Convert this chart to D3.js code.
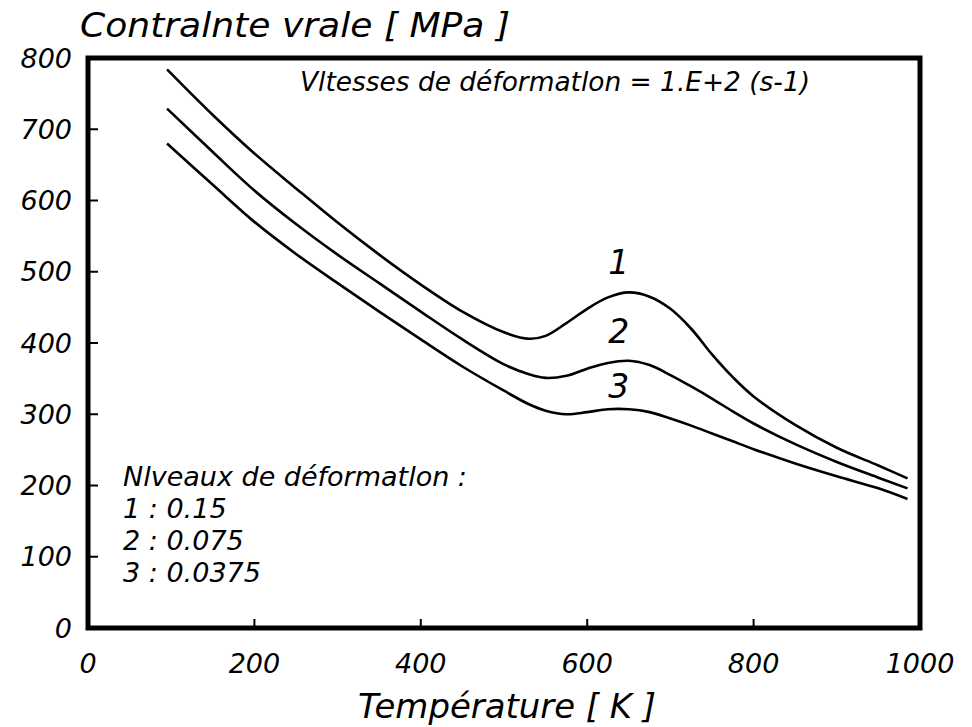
<!DOCTYPE html>
<html>
<head>
<meta charset="utf-8">
<script src="https://cdn.jsdelivr.net/npm/d3@7"></script>
<style>
  body { margin: 0; background: #fff; }
  text { font-family: "DejaVu Sans", sans-serif; font-style: italic; fill: #000; }
</style>
</head>
<body>
<svg id="chart"></svg>
<script>
// temperature (K) sampled along the curves
const temps = [95, 150, 200, 250, 300, 350, 400, 450, 500, 530, 550, 575, 600, 625, 650, 675, 700, 725, 750, 775, 800, 850, 900, 950, 985];

// true stress (MPa) per strain level
const level1 = [784, 720, 666, 617, 569, 524, 482, 444, 415, 406, 410, 428, 448, 464, 471, 465, 448, 420, 384, 352, 325, 285, 253, 228, 210];
const level2 = [729, 668, 614, 567, 524, 484, 444, 405, 370, 356, 351, 354, 364, 372, 375, 369, 355, 339, 322, 304, 287, 258, 233, 211, 196];
const level3 = [680, 622, 570, 525, 484, 444, 405, 367, 333, 314, 305, 300, 303, 307, 307, 303, 294, 284, 273, 262, 251, 231, 213, 196, 181];

const seriesNames = ["1", "2", "3"];
const xTicks = [0, 200, 400, 600, 800, 1000];
const yTicks = [0, 100, 200, 300, 400, 500, 600, 700, 800];

const legendLines = ["Nlveaux de déformatlon :", "1 : 0.15", "2 : 0.075", "3 : 0.0375"];

const width = 972, height = 727;
const margin = { top: 58, right: 52, bottom: 99, left: 88 };

const svg = d3.select("#chart").attr("width", width).attr("height", height);

const x = d3.scaleLinear().domain([0, 1000]).range([margin.left, width - margin.right]);
const y = d3.scaleLinear().domain([0, 800]).range([height - margin.bottom, margin.top]);

// curves
const series = [level1, level2, level3];
const line = d3.line()
    .x((d, i) => x(temps[i]))
    .y(d => y(d))
    .curve(d3.curveCatmullRom.alpha(0.5));

svg.append("g")
    .selectAll("path")
    .data(series)
    .join("path")
    .attr("d", line)
    .attr("fill", "none")
    .attr("stroke", "#000")
    .attr("stroke-width", 2.6);

// inward ticks
svg.append("g")
    .selectAll("line")
    .data(yTicks.slice(1, -1))
    .join("line")
    .attr("x1", x(0)).attr("x2", x(0) + 10)
    .attr("y1", d => y(d)).attr("y2", d => y(d))
    .attr("stroke", "#000").attr("stroke-width", 2);

svg.append("g")
    .selectAll("line")
    .data(xTicks.slice(1, -1))
    .join("line")
    .attr("x1", d => x(d)).attr("x2", d => x(d))
    .attr("y1", y(0)).attr("y2", y(0) - 9)
    .attr("stroke", "#000").attr("stroke-width", 2);

// frame
svg.append("rect")
    .attr("x", x(0)).attr("y", y(800))
    .attr("width", x(1000) - x(0)).attr("height", y(0) - y(800))
    .attr("fill", "none")
    .attr("stroke", "#000")
    .attr("stroke-width", 5);

// tick labels
svg.append("g")
    .selectAll("text")
    .data(yTicks)
    .join("text")
    .attr("x", 72)
    .attr("y", d => y(d))
    .attr("dy", "0.36em")
    .attr("text-anchor", "end")
    .attr("font-size", 27)
    .text(d => d);

svg.append("g")
    .selectAll("text")
    .data(xTicks)
    .join("text")
    .attr("x", d => x(d))
    .attr("y", 673)
    .attr("text-anchor", "middle")
    .attr("font-size", 27)
    .text(d => d);

// axis titles
svg.append("text")
    .attr("x", 80).attr("y", 37)
    .attr("font-size", 33)
    .attr("textLength", 430)
    .attr("lengthAdjust", "spacingAndGlyphs")
    .text("Contralnte vrale [ MPa ]");

svg.append("text")
    .attr("x", 358).attr("y", 718)
    .attr("font-size", 33)
    .attr("textLength", 298)
    .attr("lengthAdjust", "spacingAndGlyphs")
    .text("Température [ K ]");

// strain-rate note
svg.append("text")
    .attr("x", 300).attr("y", 91)
    .attr("font-size", 26)
    .attr("textLength", 510)
    .attr("lengthAdjust", "spacingAndGlyphs")
    .text("Vltesses de déformatlon = 1.E+2 (s-1)");

// curve labels, placed above the hump of each curve
const labelT = 650;
const labelOffset = [18, 18, 11];
svg.append("g")
    .selectAll("text")
    .data(series)
    .join("text")
    .attr("x", x(labelT) - 10)
    .attr("y", (d, i) => y(d[temps.indexOf(labelT)]) - labelOffset[i])
    .attr("text-anchor", "middle")
    .attr("font-size", 33)
    .text((d, i) => seriesNames[i]);

// legend
svg.append("g")
    .selectAll("text")
    .data(legendLines)
    .join("text")
    .attr("x", 123)
    .attr("y", (d, i) => 486 + i * 32)
    .attr("font-size", 27)
    .text(d => d);
</script>
</body>
</html>
